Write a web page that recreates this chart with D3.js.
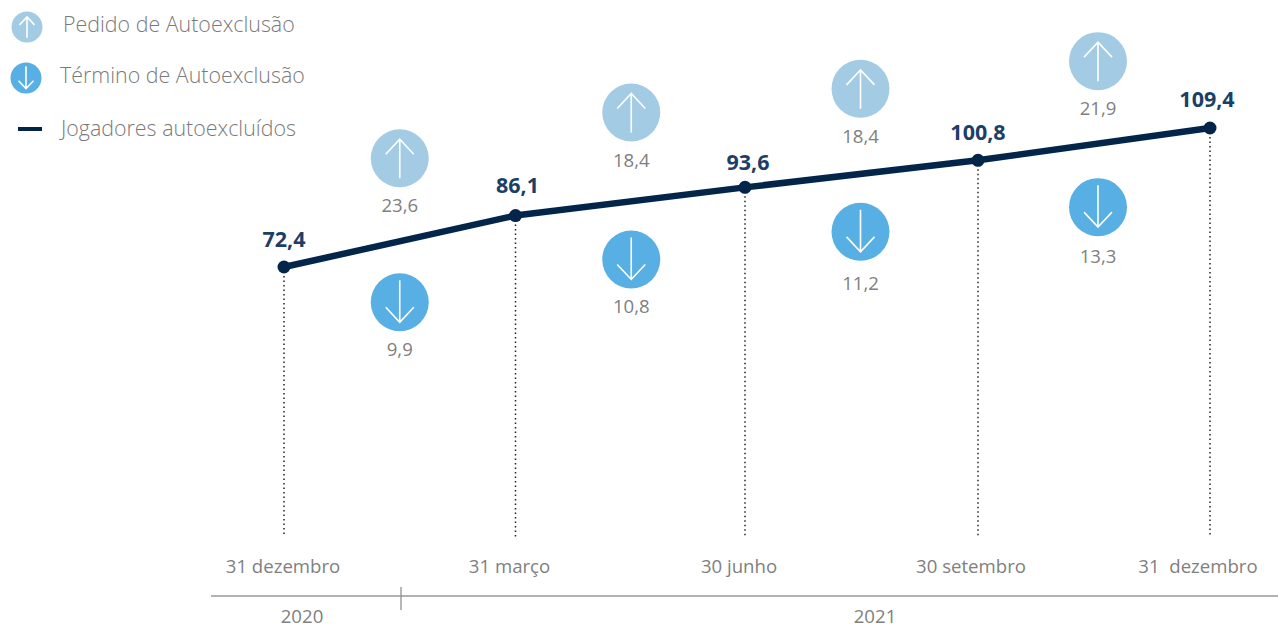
<!DOCTYPE html>
<html>
<head>
<meta charset="utf-8">
<script src="https://cdn.jsdelivr.net/npm/d3@7"></script>
<style>
  body { margin: 0; background: #fff; }
  text { font-family: "Open Sans", sans-serif; }
</style>
</head>
<body>
<script>
const width = 1278;
const height = 625;

// dados
const datas = ["31 dezembro", "31 março", "30 junho", "30 setembro", "31  dezembro"];
const jogadores = [72.4, 86.1, 93.6, 100.8, 109.4];
const pedidos = [23.6, 18.4, 18.4, 21.9];
const terminos = [9.9, 10.8, 11.2, 13.3];
const anos = ["2020", "2021"];
const legenda = ["Pedido de Autoexclusão", "Término de Autoexclusão", "Jogadores autoexcluídos"];

// acertos de layout
const ajusteX = [0, 0, -2, -0.5, 0];
const ajusteLabelData = [-1, -6, -6, -7, -12];
const ajusteBolhaX = [0, 1, -1, 4];
const ajusteCima = [-83, -89, -85, -83];
const ajusteBaixo = [61, 58, 58, 63];
const labelCima = [54, 55, 54, 54];
const labelBaixo = [54, 54, 58, 56];
const valorDx = [0, 2, 3, 0, -3];
const valorDy = [-20, -23, -17, -20, -21];

const corLinha = "#04254a";
const corValor = "#1c3f66";
const corTexto = "#808080";
const corCima = "#a3cce4";
const corBaixo = "#58afe3";
const fmt = (v) => d3.format(".1f")(v).replace(".", ",");

const svg = d3
  .select("body")
  .append("svg")
  .attr("width", width)
  .attr("height", height)
  .style("display", "block");

const x = d3.scalePoint().domain(d3.range(datas.length)).range([284, 1210]);
const y = d3.scaleLinear().domain([72.4, 109.4]).range([267, 128]);

const px = (i) => x(i) + ajusteX[i];
const meioX = (i) => (px(i) + px(i + 1)) / 2 + ajusteBolhaX[i];
const meioY = (i) => (y(jogadores[i]) + y(jogadores[i + 1])) / 2;

// linhas pontilhadas
svg
  .selectAll(".guia")
  .data(jogadores)
  .join("line")
  .attr("class", "guia")
  .attr("x1", (_, i) => px(i))
  .attr("x2", (_, i) => px(i))
  .attr("y1", (d) => y(d))
  .attr("y2", 537)
  .attr("stroke", "#222")
  .attr("stroke-width", 1.5)
  .attr("stroke-dasharray", "1.5 3");

// linha principal
const linha = d3
  .line()
  .x((_, i) => px(i))
  .y((d) => y(d));

svg
  .append("path")
  .attr("d", linha(jogadores))
  .attr("fill", "none")
  .attr("stroke", corLinha)
  .attr("stroke-width", 6.5);

svg
  .selectAll(".ponto")
  .data(jogadores)
  .join("circle")
  .attr("class", "ponto")
  .attr("cx", (_, i) => px(i))
  .attr("cy", (d) => y(d))
  .attr("r", 6.5)
  .attr("fill", corLinha);

svg
  .selectAll(".valor")
  .data(jogadores)
  .join("text")
  .attr("class", "valor")
  .attr("x", (_, i) => px(i) + valorDx[i])
  .attr("y", (d, i) => y(d) + valorDy[i])
  .attr("text-anchor", "middle")
  .attr("font-size", 21.5)
  .attr("font-weight", 700)
  .attr("fill", corValor)
  .text(fmt);

// bolha com seta, r = raio
function bolha(g, cor, paraCima, r) {
  const k = r / 29;
  g.append("circle").attr("r", r).attr("fill", cor);
  const d = paraCima
    ? "M0 20V-19M-14 -4L0 -19L14 -4"
    : "M0 -22V20M-14 5L0 20L14 5";
  g.append("path")
    .attr("d", d)
    .attr("transform", `scale(${k})`)
    .attr("fill", "none")
    .attr("stroke", "#fff")
    .attr("stroke-width", 1.6 / k);
}

function serieBolhas(valores, cor, paraCima, ajuste, labelY) {
  const grupos = svg
    .selectAll(paraCima ? ".cima" : ".baixo")
    .data(valores)
    .join("g")
    .attr("class", paraCima ? "cima" : "baixo")
    .attr("transform", (_, i) => `translate(${meioX(i)} ${meioY(i) + ajuste[i]})`);

  grupos.each(function () {
    bolha(d3.select(this), cor, paraCima, 29);
  });

  grupos
    .append("text")
    .attr("y", (_, i) => labelY[i])
    .attr("text-anchor", "middle")
    .attr("font-size", 18.6)
    .attr("fill", corTexto)
    .text(fmt);
}

serieBolhas(pedidos, corCima, true, ajusteCima, labelCima);
serieBolhas(terminos, corBaixo, false, ajusteBaixo, labelBaixo);

// datas
svg
  .selectAll(".data")
  .data(datas)
  .join("text")
  .attr("class", "data")
  .attr("x", (_, i) => px(i) + ajusteLabelData[i])
  .attr("y", 573)
  .attr("text-anchor", "middle")
  .attr("font-size", 18.6)
  .attr("fill", corTexto)
  .style("white-space", "pre")
  .text((d) => d);

// eixo dos anos
svg
  .append("line")
  .attr("x1", 211)
  .attr("x2", width)
  .attr("y1", 596)
  .attr("y2", 596)
  .attr("stroke", "#999")
  .attr("stroke-width", 1.4);

svg
  .append("line")
  .attr("x1", 401)
  .attr("x2", 401)
  .attr("y1", 587)
  .attr("y2", 610)
  .attr("stroke", "#888")
  .attr("stroke-width", 1.2);

svg
  .selectAll(".ano")
  .data(anos)
  .join("text")
  .attr("class", "ano")
  .attr("x", (_, i) => [302, 875][i])
  .attr("y", 623)
  .attr("text-anchor", "middle")
  .attr("font-size", 18.6)
  .attr("fill", corTexto)
  .text((d) => d);

// legenda
const legY = [32, 83, 136];
const legX = [63, 60, 61];
svg
  .selectAll(".leg")
  .data(legenda)
  .join("text")
  .attr("class", "leg")
  .attr("x", (_, i) => legX[i])
  .attr("y", (_, i) => legY[i])
  .attr("font-size", 21.4)
  .attr("font-weight", 300)
  .attr("fill", "#7a7a7a")
  .text((d) => d);

bolha(svg.append("g").attr("transform", "translate(27 27)"), corCima, true, 15.5);
bolha(svg.append("g").attr("transform", "translate(26 78)"), corBaixo, false, 15.5);

svg
  .append("line")
  .attr("x1", 18)
  .attr("x2", 42)
  .attr("y1", 129)
  .attr("y2", 129)
  .attr("stroke", corLinha)
  .attr("stroke-width", 4);
</script>
</body>
</html>
